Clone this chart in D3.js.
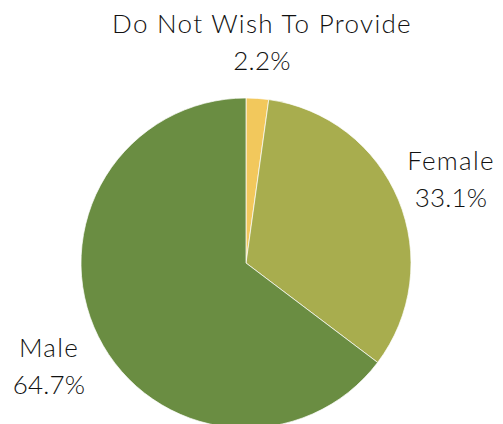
<!DOCTYPE html>
<html lang="en">
  <head>
    <meta charset="UTF-8" />
    <script src="https://d3js.org/d3.v7.min.js"></script>
    <style>
      body { margin: 0; background: #fff; }
      .lbl { font-family: Lato, "Open Sans", sans-serif; font-size: 26px; fill: #111; font-weight: 300; letter-spacing: 1.3px; }
      .pct { letter-spacing: 0.2px; }
    </style>
  </head>
  <body>
    <svg id="chart" width="503" height="424"></svg>
    <script>
      // data
      const categories = ["Do Not Wish To Provide", "Female", "Male"];
      const shares = [2.2, 33.1, 64.7];
      const colors = ["#F2C85C", "#A8AD4E", "#6A8D42"];

      const svg = d3.select("#chart"),
        cx = 246,
        cy = 263,
        radius = 165;

      const pie = d3.pie().sort(null).value(d => d.v);
      const arc = d3.arc().innerRadius(0).outerRadius(radius);
      const rows = categories.map((c, i) => ({ c: c, v: shares[i], col: colors[i] }));
      const arcs = pie(rows);

      const g = svg.append("g").attr("transform", `translate(${cx},${cy})`);
      g.selectAll("path")
        .data(arcs)
        .join("path")
        .attr("d", arc)
        .attr("fill", d => d.data.col)
        .attr("stroke", "#fff")
        .attr("stroke-width", 0.7);

      // label spots (outside the pie), tuned by eye
      const labelPos = [
        { x: 262, y: 33 },
        { x: 451, y: 170 },
        { x: 49, y: 357 }
      ];
      const lab = svg.selectAll("g.lab")
        .data(arcs)
        .join("g")
        .attr("class", "lab")
        .attr("transform", (d, i) => `translate(${labelPos[i].x},${labelPos[i].y})`);
      lab.append("text")
        .attr("class", "lbl")
        .attr("text-anchor", "middle")
        .text(d => d.data.c);
      lab.append("text")
        .attr("class", "lbl pct")
        .attr("text-anchor", "middle")
        .attr("y", 37)
        .text(d => d.data.v.toFixed(1) + "%");
    </script>
  </body>
</html>
